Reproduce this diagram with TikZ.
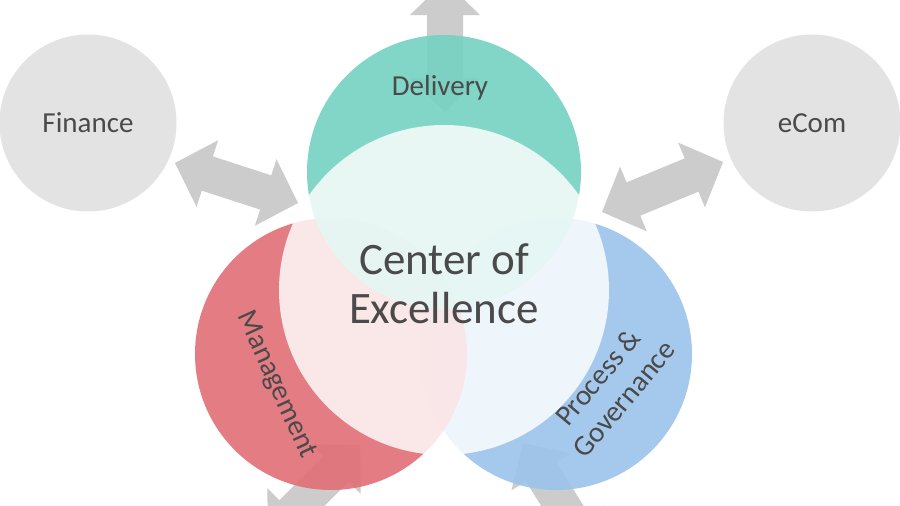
\documentclass[tikz,border=0pt]{standalone}
\usepackage{fontspec}
\setmainfont{Carlito}
\usetikzlibrary{calc}
\definecolor{grayc}{HTML}{E3E3E3}
\definecolor{arrowc}{HTML}{CCCCCC}
\definecolor{tealc}{HTML}{74D2C2}
\definecolor{redc}{HTML}{E26E76}
\definecolor{bluec}{HTML}{9CC4EC}
\definecolor{txtc}{HTML}{4A4A4A}
\newcommand{\dblarrow}[2]{%
  \fill[arrowc] (#1)
   -- ($(#1)!34pt!(#2)!35pt!90:(#2)$)
   -- ($(#1)!34pt!(#2)!18pt!90:(#2)$)
   -- ($(#2)!34pt!(#1)!18pt!-90:(#1)$)
   -- ($(#2)!34pt!(#1)!35pt!-90:(#1)$)
   -- (#2)
   -- ($(#2)!34pt!(#1)!35pt!90:(#1)$)
   -- ($(#2)!34pt!(#1)!18pt!90:(#1)$)
   -- ($(#1)!34pt!(#2)!18pt!-90:(#2)$)
   -- ($(#1)!34pt!(#2)!35pt!-90:(#2)$)
   -- cycle;}
\begin{document}
\begin{tikzpicture}[x=1pt,y=-1pt,
  sidecircle/.style={circle, fill=grayc, minimum size=177pt, inner sep=0pt, text=txtc, font=\fontsize{29}{35}\selectfont},
  petal/.style={circle, inner sep=0pt, fill opacity=0.9},
  lbl/.style={text=txtc, font=\fontsize{29}{34}\selectfont},
  coe/.style={text=txtc, font=\fontsize{45}{50}\selectfont},
]
\fill[white] (0,0) rectangle (900,506);
\useasboundingbox (0,0) rectangle (900,506);

% side circles
\node[sidecircle] (fin) at (88,123) {Finance};
\node[sidecircle] (ecom) at (812,123) {eCom};

% arrow end points
\coordinate (fa1) at (175,163);
\coordinate (fa2) at (298,203);
\coordinate (ea1) at (602,212);
\coordinate (ea2) at (723,162);
\coordinate (ta1) at (445,-19);
\coordinate (ta2) at (445,112);
\coordinate (la1) at (360,445);
\coordinate (la2) at (268,537);
\coordinate (ra1) at (523,443);
\coordinate (ra2) at (592,553);
\dblarrow{fa1}{fa2}
\dblarrow{ea1}{ea2}
\dblarrow{ta1}{ta2}
\dblarrow{la1}{la2}
\dblarrow{ra1}{ra2}

% petals
\node[petal, fill=bluec, minimum size=272pt] (gov) at (556,354) {};
\node[petal, fill=redc, minimum size=272pt] (man) at (331,354) {};
\node[petal, fill=tealc, minimum size=274pt] (del) at (444,172) {};
% centre
\node[circle, inner sep=0pt, fill=white, fill opacity=0.82, minimum size=330pt] (core) at (444,290) {};

% labels
\node[lbl, anchor=base] (deltxt) at (440,95) {Delivery};
\node[lbl, rotate=-65.6] (mantxt) at (276,385) {Management};
\node[lbl, rotate=50, align=center] (govtxt) at (611,388) {Process \&\\Governance};
\node[coe, anchor=base] (coe1) at (444,274) {Center of};
\node[coe, anchor=base] (coe2) at (444,323) {Excellence};
\end{tikzpicture}
\end{document}
